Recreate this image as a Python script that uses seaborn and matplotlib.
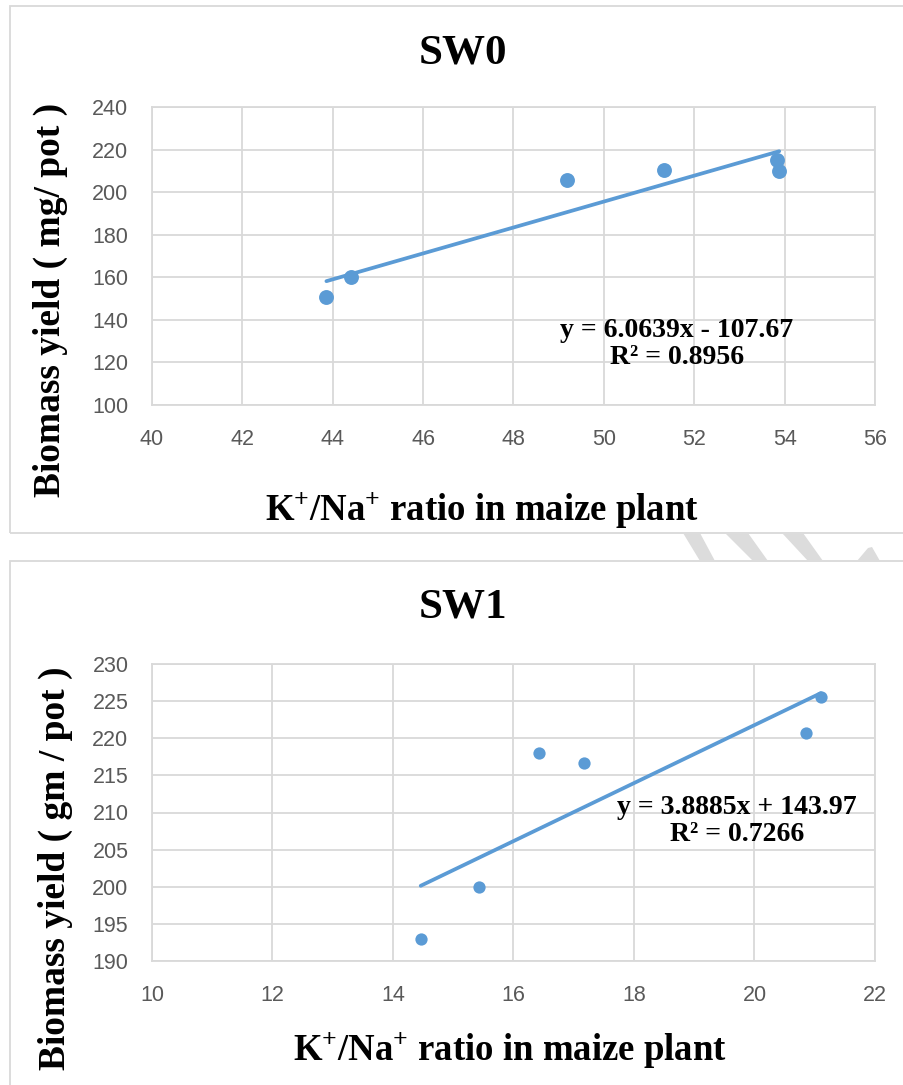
import numpy as np
import pandas as pd
import seaborn as sns
import matplotlib.pyplot as plt
from matplotlib.patches import Rectangle, Polygon

# SW0 panel data
sw0_ratio = [43.86, 44.41, 49.19, 51.33, 53.84, 53.88]
sw0_yield = [150.6, 160.3, 205.6, 210.6, 215.3, 209.8]
sw0_eq = "y = 6.0639x - 107.67\nR² = 0.8956"
sw0_xticks = [40, 42, 44, 46, 48, 50, 52, 54, 56]
sw0_yticks = [100, 120, 140, 160, 180, 200, 220, 240]

# SW1 panel data
sw1_ratio = [14.46, 15.43, 16.43, 17.17, 20.86, 21.10]
sw1_yield = [193.0, 200.0, 218.0, 216.6, 220.7, 225.5]
sw1_eq = "y = 3.8885x + 143.97\nR² = 0.7266"
sw1_xticks = [10, 12, 14, 16, 18, 20, 22]
sw1_yticks = [190, 195, 200, 205, 210, 215, 220, 225, 230]

xlabel = r"K$^{+}$/Na$^{+}$ ratio in maize plant"

W, H = 904, 1085
BLUE = "#5B9BD5"
GRID = "#d9d9d9"
SERIF = ["Liberation Serif", "DejaVu Serif"]

sns.set_theme(style="whitegrid")
plt.rcParams["font.family"] = SERIF
plt.rcParams["text.color"] = "black"
plt.rcParams["mathtext.fontset"] = "custom"
plt.rcParams["mathtext.rm"] = "Liberation Serif:bold"
plt.rcParams["mathtext.default"] = "rm"

fig = plt.figure(figsize=(W / 100, H / 100), dpi=100)
fig.patch.set_facecolor("white")


def fx(px):
    return px / W


def fy(py):
    return 1 - py / H


# panel frames
fig.add_artist(Rectangle((fx(10), fy(533)), 1.2, fy(6) - fy(533), transform=fig.transFigure,
                         fill=False, edgecolor=GRID, linewidth=1.3))
fig.add_artist(Rectangle((fx(10), -0.2), 1.2, fy(561) + 0.2, transform=fig.transFigure,
                         fill=False, edgecolor=GRID, linewidth=1.3))

# faint watermark stripes between the panels
stripes = [
    [(683, 533), (700, 533), (715, 561), (700, 561)],
    [(725, 533), (748, 533), (768, 561), (753, 561)],
    [(782, 533), (803, 533), (823, 561), (808, 561)],
    [(857, 561), (868, 548), (872, 547), (880, 561)],
]
for pts in stripes:
    fig.add_artist(Polygon([(fx(a), fy(b)) for a, b in pts], closed=True,
                           transform=fig.transFigure, facecolor="#dcdcdc", edgecolor="none"))

panels = [
    dict(x=sw0_ratio, y=sw0_yield, eq=sw0_eq, xt=sw0_xticks, yt=sw0_yticks, title="SW0",
         ylabel="Biomass yield ( mg/ pot )", box=(152, 107, 875, 405), s=115,
         title_y=53, ylab=(50, 300), xlab=(482, 510), eqpos=(0.726, 0.205)),
    dict(x=sw1_ratio, y=sw1_yield, eq=sw1_eq, xt=sw1_xticks, yt=sw1_yticks, title="SW1",
         ylabel="Biomass yield ( gm / pot )", box=(152, 664, 875, 961), s=78,
         title_y=607, ylab=(55, 868), xlab=(510, 1050), eqpos=(0.809, 0.471)),
]

for p in panels:
    x0, y0, x1, y1 = p["box"]
    ax = fig.add_axes([fx(x0), fy(y1), fx(x1) - fx(x0), fy(y0) - fy(y1)])
    df = pd.DataFrame({"ratio": p["x"], "yield": p["y"]})
    sns.regplot(data=df, x="ratio", y="yield", ax=ax, ci=None, truncate=True,
                color=BLUE,
                scatter_kws=dict(s=p["s"], alpha=1, linewidths=0, zorder=3),
                line_kws=dict(linewidth=2.7, zorder=2))
    ax.set_xlim(p["xt"][0], p["xt"][-1])
    ax.set_ylim(p["yt"][0], p["yt"][-1])
    ax.set_xticks(p["xt"])
    ax.set_yticks(p["yt"])
    ax.set_xlabel("")
    ax.set_ylabel("")
    ax.set_facecolor("white")
    ax.grid(True, color=GRID, linewidth=1.3)
    for sp in ax.spines.values():
        sp.set_color(GRID)
        sp.set_linewidth(1.3)
    ax.tick_params(length=0, pad=17, labelsize=15.5, labelcolor="#595959")
    for lab in ax.get_xticklabels() + ax.get_yticklabels():
        lab.set_family(["Liberation Sans", "DejaVu Sans"])
    ax.text(p["eqpos"][0], p["eqpos"][1], p["eq"], transform=ax.transAxes,
            ha="center", va="center", multialignment="center", fontsize=20,
            fontweight="bold", linespacing=1.1, zorder=4, color="black")

    fig.text(fx(463), fy(p["title_y"]), p["title"], ha="center", va="center",
             fontsize=31, fontweight="bold", color="black")
    fig.text(fx(p["ylab"][0]), fy(p["ylab"][1]), p["ylabel"], ha="center", va="center",
             rotation=90, fontsize=27, fontweight="bold", color="black")
    fig.text(fx(p["xlab"][0]), fy(p["xlab"][1]), xlabel,
             ha="center", va="center", fontsize=26.5, fontweight="bold", color="black")

fig.savefig("out.png", dpi=100, facecolor="white")
